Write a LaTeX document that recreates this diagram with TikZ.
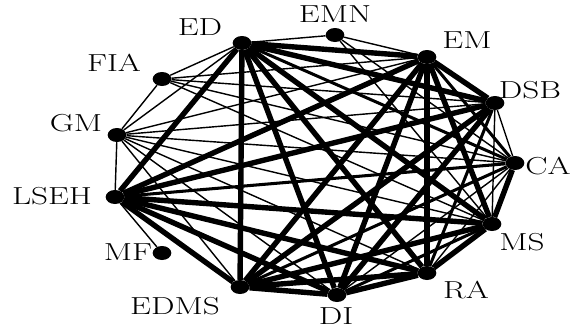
\documentclass[tikz,border=0pt]{standalone}
\usetikzlibrary{shapes.geometric}
\begin{document}
\begin{tikzpicture}[x={(0.03cm,0)}, y={(0,-0.03cm)},
    nodo/.style={ellipse, fill=black, inner sep=0pt, minimum width=0.56cm, minimum height=0.42cm},
    etiqueta/.style={font=\fontsize{21}{23}\selectfont, xscale=1.35, inner sep=0pt},
    fuerte/.style={line width=4.6pt},
    medio/.style={line width=2.6pt},
    fino/.style={line width=1.2pt}]
    \useasboundingbox (0,0) rectangle (581,329);

    % Nodos de la red
    \node[nodo] (ED) at (242,43) {};
    \node[nodo] (EMN) at (335,35) {};
    \node[nodo] (EM) at (427,57) {};
    \node[nodo] (DSB) at (495,103) {};
    \node[nodo] (CA) at (515,163) {};
    \node[nodo] (MS) at (492,224) {};
    \node[nodo] (RA) at (427,273) {};
    \node[nodo] (DI) at (337,295) {};
    \node[nodo] (EDMS) at (240,287) {};
    \node[nodo] (MF) at (162,253) {};
    \node[nodo] (LSEH) at (115,197) {};
    \node[nodo] (GM) at (117,135) {};
    \node[nodo] (FIA) at (162,79) {};

    % Etiquetas
    \node[etiqueta] (tED) at (200,27) {ED};
    \node[etiqueta] (tEMN) at (335,14) {EMN};
    \node[etiqueta] (tEM) at (467,40) {EM};
    \node[etiqueta] (tDSB) at (530,90) {DSB};
    \node[etiqueta] (tCA) at (548,166) {CA};
    \node[etiqueta] (tMS) at (522,242) {MS};
    \node[etiqueta] (tRA) at (466,290) {RA};
    \node[etiqueta] (tDI) at (336,316) {DI};
    \node[etiqueta] (tEDMS) at (175,306) {EDMS};
    \node[etiqueta] (tMF) at (128,252) {MF};
    \node[etiqueta] (tLSEH) at (52,196) {LSEH};
    \node[etiqueta] (tGM) at (76,123) {GM};
    \node[etiqueta] (tFIA) at (114,63) {FIA};

    % Enlaces fuertes del nucleo
    \foreach \a/\b in {ED/EM, ED/EDMS, ED/LSEH, ED/DI, ED/RA, ED/MS, ED/DSB,
        EM/DSB, EM/RA, EM/MS, EM/DI, EM/EDMS, EM/LSEH,
        DSB/LSEH, DSB/EDMS, DSB/DI, CA/MS, MS/RA, MS/LSEH, MS/EDMS,
        RA/LSEH, RA/EDMS, RA/DI, DI/EDMS, DI/LSEH, EDMS/LSEH}
        \draw[fuerte] (\a) -- (\b);

    % Enlaces intermedios
    \foreach \a/\b in {ED/CA, EM/CA, DSB/RA, CA/EDMS, MS/DI, CA/LSEH}
        \draw[medio] (\a) -- (\b);

    % Enlaces debiles de la periferia
    \foreach \a/\b in {FIA/GM, FIA/ED, FIA/EM, FIA/DSB, FIA/CA, FIA/MS,
        GM/LSEH, GM/ED, GM/EM, GM/DSB, GM/CA, GM/MS, GM/RA, GM/DI, GM/EDMS,
        EMN/ED, EMN/EM, EMN/CA, EMN/MS, MF/LSEH,
        DSB/CA, DSB/MS, CA/RA, CA/DI, EDMS/MS, DI/DSB}
        \draw[fino] (\a) -- (\b);
\end{tikzpicture}
\end{document}
